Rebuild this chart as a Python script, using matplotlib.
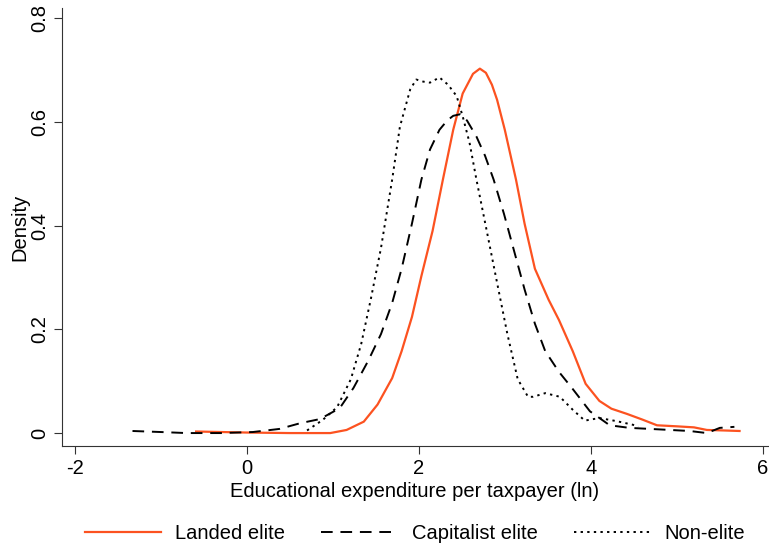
import numpy as np
import matplotlib
matplotlib.use('Agg')
import matplotlib.pyplot as plt

plt.rcParams['font.family'] = ['Liberation Sans', 'DejaVu Sans']
plt.rcParams['axes.unicode_minus'] = False

# Density curves (x = ln expenditure, y = density)
landed_x = [-0.59, 0.0, 0.5, 0.97, 1.16, 1.36, 1.52, 1.69, 1.80, 1.92, 2.03, 2.16, 2.28,
            2.40, 2.51, 2.63, 2.71, 2.78, 2.85, 2.91, 3.00, 3.13, 3.23, 3.35, 3.51, 3.63,
            3.79, 3.94, 4.10, 4.24, 4.42, 4.60, 4.77, 5.00, 5.20, 5.35, 5.55, 5.73]
landed_y = [0.003, 0.001, 0.0, 0.0, 0.006, 0.022, 0.055, 0.106, 0.158, 0.224, 0.303, 0.39, 0.489,
            0.585, 0.655, 0.693, 0.703, 0.695, 0.672, 0.643, 0.585, 0.489, 0.404, 0.317, 0.257, 0.218,
            0.158, 0.095, 0.062, 0.047, 0.037, 0.026, 0.015, 0.013, 0.011, 0.006, 0.005, 0.004]

capital_x = [-1.33, -1.0, -0.7, -0.3, 0.07, 0.38, 0.62, 0.85, 1.08, 1.24, 1.41, 1.56, 1.69,
             1.80, 1.92, 2.03, 2.13, 2.24, 2.33, 2.40, 2.48, 2.56, 2.67, 2.77, 2.87, 2.99,
             3.12, 3.23, 3.35, 3.47, 3.63, 3.79, 3.99, 4.22, 4.45, 4.69, 5.15, 5.35, 5.50, 5.67]
capital_y = [0.004, 0.002, 0.0, 0.0, 0.002, 0.008, 0.019, 0.027, 0.048, 0.087, 0.139, 0.191, 0.251,
             0.317, 0.404, 0.489, 0.547, 0.585, 0.603, 0.612, 0.615, 0.603, 0.572, 0.535, 0.489, 0.423,
             0.344, 0.277, 0.211, 0.158, 0.118, 0.085, 0.042, 0.015, 0.01, 0.008, 0.004, 0.0, 0.01, 0.012]

nonelite_x = [0.7, 0.88, 1.05, 1.21, 1.33, 1.44, 1.56, 1.69, 1.78, 1.90, 1.97, 2.05, 2.13, 2.24,
              2.34, 2.44, 2.51, 2.59, 2.67, 2.79, 2.91, 3.03, 3.15, 3.27, 3.33, 3.47,
              3.64, 3.79, 3.93, 4.10, 4.30, 4.49, 4.55]
nonelite_y = [0.005, 0.025, 0.05, 0.104, 0.172, 0.257, 0.357, 0.489, 0.591, 0.663, 0.682, 0.678, 0.676, 0.686,
              0.672, 0.65, 0.611, 0.56, 0.489, 0.39, 0.29, 0.191, 0.104, 0.07, 0.07, 0.077,
              0.07, 0.045, 0.024, 0.029, 0.023, 0.016, 0.012]

labels = ['Landed elite', 'Capitalist elite', 'Non-elite']

fig = plt.figure(figsize=(7.69, 5.47), dpi=100)
ax = fig.add_axes([0.0806, 0.1846, 0.918, 0.8008])

ax.plot(landed_x, landed_y, color='#fc5220', lw=1.6, label=labels[0])
ax.plot(capital_x, capital_y, color='black', lw=1.4, dashes=(6, 4), label=labels[1])
ax.plot(nonelite_x, nonelite_y, color='black', lw=1.4, dashes=(1.2, 2.2), label=labels[2])

ax.set_xlim(-2.15, 6.06)
ax.set_ylim(-0.025, 0.82)
ax.set_xticks([-2, 0, 2, 4, 6])
ax.set_yticks([0, 0.2, 0.4, 0.6, 0.8])
ax.set_yticklabels(['0', '0.2', '0.4', '0.6', '0.8'], rotation=90, va='center')
ax.tick_params(labelsize=14.5, length=6, width=0.8, colors='#333333', labelcolor='black')
for s in ['top', 'right']:
    ax.spines[s].set_visible(False)
for s in ['left', 'bottom']:
    ax.spines[s].set_color('#333333')
    ax.spines[s].set_linewidth(0.8)

ax.set_xlabel('Educational expenditure per taxpayer (ln)', fontsize=14.5, labelpad=3)
ax.set_ylabel('Density', fontsize=14.5, labelpad=0)

ax.legend(loc='center', bbox_to_anchor=(0.5, -0.2), ncol=3, frameon=False, fontsize=14.5,
          handlelength=3.8, handletextpad=0.7, columnspacing=1.8)

fig.savefig('out.png', dpi=100)
